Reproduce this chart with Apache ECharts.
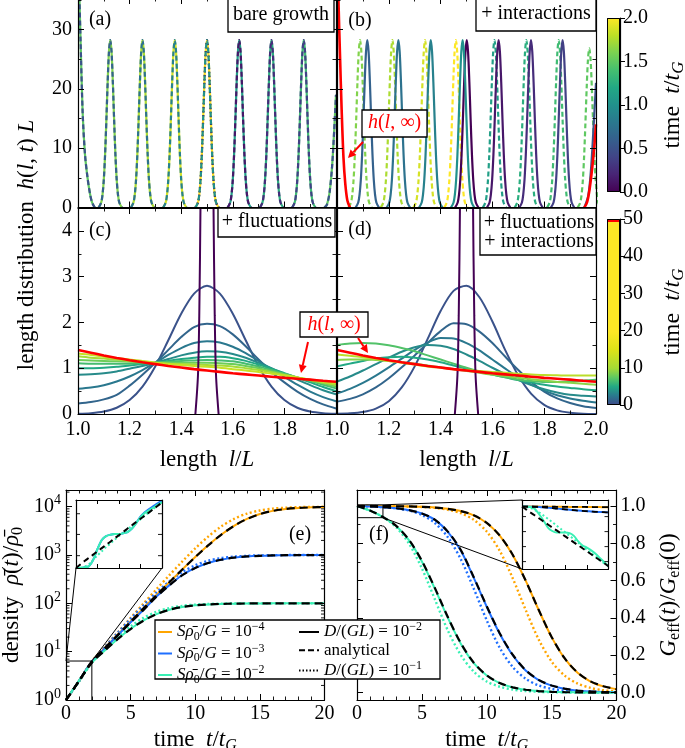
<!DOCTYPE html>
<html><head><meta charset="utf-8">
<script src="https://cdn.jsdelivr.net/npm/echarts@6/dist/echarts.min.js"></script>
<style>html,body{margin:0;padding:0;background:#fff}#c{width:685px;height:748px}</style>
</head><body><div id="c"></div>
<script>
// ---------------- DATA ----------------
const lenGrid = [1.00,1.05,1.10,1.15,1.20,1.25,1.30,1.35,1.40,1.45,1.50,1.55,1.60,1.65,1.70,1.75,1.80,1.85,1.90,1.95,2.00];
const peakOffsets = [-0.045,-0.035,-0.03,-0.025,-0.02,-0.015,-0.01,-0.005,0,0.005,0.01,0.015,0.02,0.025,0.03,0.035,0.045];
const peakShape   = [0,0.03,0.076,0.166,0.317,0.524,0.75,0.93,1,0.93,0.75,0.524,0.317,0.166,0.076,0.03,0];
const peakHeight = 28.2;
const aSolidTimes   = [1.125,1.25,1.375,1.5,1.625,1.75,1.875,2.0];
const aSolidCenters = [1.625,1.75,1.875,null,1.125,1.25,1.375,1.5];
const aDashTimes    = [0,0.125,0.25,0.375,0.5,0.625,0.75,0.875,1.0];
const aDashCenters  = [1.5,1.625,1.75,1.875,null,1.125,1.25,1.375,1.5];
const aEdgeLeft  = [[1.0,45],[1.004,38],[1.01,28],[1.018,16],[1.027,9],[1.037,5],[1.047,2.2],[1.055,0.8],[1.065,0]];
const aEdgeRight = [[1.955,0],[1.965,0.5],[1.975,2.5],[1.985,7],[1.993,13],[2.0,19]];
const bSolidTimes   = [0,0.125,0.25,0.375,0.5,0.625,0.75,0.875,1.0];
const bSolidCenters = [1.501,1.624,1.749,1.871,null,1.117,1.237,1.362,1.485];
const bDashTimes    = [1.125,1.25,1.375,1.5,1.625,1.75,1.875,2.0];
const bDashCenters  = [1.608,1.731,1.856,1.974,1.089,1.214,1.340,1.459];
const bDashHeights  = [28.2,28.2,28.2,26.8,28.2,28.2,28.2,28.2];
const bEdgeRight = [[1.955,0],[1.97,2],[1.98,6],[1.99,13],[2.0,21]];
const bInfLeft  = [[1.0,48],[1.005,36],[1.012,25],[1.018,16.4],[1.025,8.4],[1.032,4],[1.04,1.2],[1.05,0]];
const bInfRight = [[1.955,0],[1.965,0.8],[1.975,3],[1.985,6.5],[1.993,10],[2.0,14]];
const cTimes = [0.5,1.5,2.5,3.5,5,6.5,8,10,13];
const cCurves = [
 [0.006,0.019,0.054,0.137,0.305,0.60,1.045,1.61,2.19,2.63,2.80,2.63,2.19,1.61,1.045,0.60,0.305,0.137,0.054,0.019,0.006],
 [0.23,0.26,0.32,0.42,0.62,0.86,1.12,1.40,1.68,1.90,1.97,1.92,1.74,1.48,1.19,0.92,0.69,0.49,0.33,0.21,0.12],
 [0.55,0.58,0.63,0.71,0.82,0.96,1.12,1.29,1.44,1.55,1.59,1.56,1.47,1.33,1.16,0.98,0.81,0.64,0.49,0.37,0.28],
 [0.86,0.87,0.89,0.93,0.99,1.05,1.12,1.20,1.28,1.34,1.37,1.36,1.31,1.23,1.12,1.00,0.87,0.75,0.63,0.52,0.43],
 [1.00,1.00,1.01,1.03,1.06,1.09,1.12,1.16,1.20,1.23,1.25,1.25,1.22,1.16,1.08,0.99,0.89,0.79,0.69,0.59,0.50],
 [1.11,1.10,1.10,1.10,1.10,1.11,1.12,1.14,1.16,1.17,1.18,1.17,1.15,1.10,1.04,0.96,0.88,0.80,0.72,0.64,0.56],
 [1.18,1.17,1.16,1.15,1.14,1.13,1.12,1.12,1.12,1.12,1.12,1.11,1.09,1.05,1.00,0.93,0.87,0.80,0.73,0.67,0.60],
 [1.26,1.23,1.21,1.19,1.16,1.14,1.12,1.10,1.09,1.08,1.07,1.06,1.04,1.00,0.96,0.91,0.85,0.80,0.74,0.69,0.64],
 [1.32,1.29,1.25,1.22,1.19,1.16,1.12,1.09,1.07,1.05,1.03,1.01,0.98,0.95,0.92,0.88,0.84,0.80,0.75,0.71,0.67]
];
const hInf = [1.40,1.34,1.28,1.225,1.175,1.13,1.09,1.05,1.015,0.98,0.95,0.92,0.89,0.865,0.84,0.815,0.79,0.77,0.75,0.725,0.705];
const initialCenter = 1.5;
const dTimes = [0.5,1.5,2.5,3.5,5,7,9,12];
const dCurves = [
 [0.004,0.014,0.043,0.118,0.28,0.58,1.04,1.64,2.25,2.69,2.80,2.55,2.02,1.39,0.84,0.44,0.20,0.08,0.028,0.008,0.002],
 [0.27,0.33,0.43,0.58,0.78,1.02,1.28,1.55,1.81,1.98,1.96,1.80,1.55,1.25,0.96,0.70,0.49,0.34,0.24,0.17,0.13],
 [0.45,0.55,0.68,0.84,1.02,1.21,1.40,1.56,1.66,1.65,1.55,1.39,1.19,0.99,0.80,0.64,0.51,0.41,0.34,0.29,0.25],
 [0.71,0.82,0.95,1.09,1.23,1.36,1.46,1.51,1.49,1.42,1.30,1.16,1.01,0.87,0.74,0.63,0.54,0.47,0.42,0.40,0.38],
 [1.04,1.10,1.16,1.21,1.24,1.25,1.23,1.19,1.13,1.06,0.99,0.92,0.86,0.80,0.74,0.69,0.64,0.60,0.57,0.54,0.52],
 [1.51,1.54,1.55,1.54,1.50,1.44,1.37,1.28,1.19,1.10,1.01,0.93,0.86,0.80,0.75,0.72,0.70,0.70,0.71,0.73,0.75],
 [1.18,1.19,1.19,1.18,1.16,1.13,1.10,1.06,1.02,0.98,0.94,0.90,0.86,0.83,0.79,0.76,0.73,0.70,0.68,0.66,0.64],
 [1.30,1.27,1.24,1.20,1.16,1.12,1.08,1.04,1.01,0.98,0.96,0.94,0.92,0.90,0.88,0.865,0.85,0.845,0.84,0.84,0.84]
];
// panel (e): density vs time (t = 0..20)
const eT = [0,1,2,3,4,5,6,7,8,9,10,11,12,13,14,15,16,17,18,19,20];
const eOrangeD2 = [1,2.5,6.3,11.9,22.4,42.2,79.4,149,274,504,909,1586,2619,4006,5573,7034,8171,8938,9406,9667,9825];
const eBlueD2   = [1,2.5,6.26,11.7,21.9,40.5,73.6,138,238,385,540,685,800,882,933,963,980,990,995,997,998];
const eGreenD2  = [1,2.5,5.93,10.6,18.3,29.7,44.3,59.9,73.8,84.2,90.9,95.0,97.3,98.5,99.2,99.6,99.8,99.9,100,100,100];
const eOrangeD1 = [1,2.4,6.3,12.6,25.0,49.9,99,196,383,736,1368,2402,3869,5573,7152,8337,9091,9524,9755,9876,9937];
const eBlueD1   = [1,2.4,6.26,12.4,24.5,47.7,90.9,167,285,443,613,760,863,926,962,980,990,995,997.5,998.7,999.4];
const eGreenD1  = [1,2.4,5.93,11.2,20.1,33.4,50,66.7,79.9,88.8,94.1,96.9,98.4,99.2,99.6,99.8,99.9,99.9,100,100,100];
const eOrangeAn = [1,2.45,6.2,11.8,22.2,41.8,78.8,148,272,501,904,1580,2610,3995,5562,7025,8165,8934,9403,9665,9824];
const eBlueAn   = [1,2.45,6.2,11.6,21.7,40.2,73.1,137,236,382,537,682,797,880,932,962,979,989,994,997,998];
const eGreenAn  = [1,2.45,5.9,10.5,18.1,29.4,43.9,59.5,73.5,84.0,90.8,94.9,97.2,98.5,99.2,99.6,99.8,99.9,100,100,100];
const eLogMinorTicks = [2,3,4,5,6,7,8,9,20,30,40,50,60,70,80,90,200,300,400,500,600,700,800,900,2000,3000,4000,5000,6000,7000,8000,9000,20000];
// inset of (e): t = 0..2
const inT = [0,0.1,0.2,0.3,0.4,0.5,0.6,0.7,0.8,0.9,1.0,1.1,1.2,1.3,1.4,1.5,1.6,1.7,1.8,1.9,2.0];
const eInGreenD2 = [1,1,1.02,1.05,1.25,1.68,2.15,2.39,2.48,2.53,2.53,2.58,2.67,2.93,3.41,4.02,4.5,4.84,5.21,5.63,6.05];
const eInBlueD2  = [1,1,1.02,1.05,1.25,1.68,2.15,2.39,2.48,2.53,2.53,2.58,2.67,2.93,3.41,4.06,4.59,5.0,5.42,5.84,6.29];
const eInGreenD1 = [1,1.013,1.04,1.11,1.25,1.41,1.58,1.77,1.95,2.17,2.39,2.63,2.88,3.16,3.47,3.8,4.17,4.59,5.03,5.51,6.06];
const eInAn      = [1,1.10,1.21,1.32,1.44,1.58,1.72,1.88,2.05,2.25,2.45,2.68,2.94,3.21,3.51,3.83,4.18,4.57,5.0,5.46,5.98];
const eInTicks = [1.4,2.5,4.4];
// panel (f): effective growth rate vs time
const fOrangeD2 = [1,1,0.9994,0.9988,0.998,0.996,0.992,0.985,0.973,0.95,0.909,0.841,0.738,0.6,0.443,0.297,0.183,0.106,0.059,0.033,0.0175];
const fBlueD2   = [1,0.998,0.994,0.988,0.978,0.96,0.926,0.862,0.762,0.615,0.46,0.315,0.2,0.118,0.067,0.037,0.02,0.01,0.005,0.003,0.002];
const fGreenD2  = [1,0.975,0.941,0.894,0.817,0.703,0.557,0.401,0.262,0.158,0.091,0.05,0.027,0.015,0.008,0.004,0.002,0.001,0,0,0];
const fOrangeD1 = [1,1,0.9994,0.9987,0.9975,0.995,0.99,0.98,0.962,0.926,0.863,0.76,0.613,0.443,0.285,0.166,0.091,0.048,0.025,0.012,0.006];
const fBlueD1   = [1,0.998,0.994,0.988,0.976,0.952,0.909,0.833,0.715,0.557,0.387,0.24,0.137,0.074,0.038,0.02,0.01,0.005,0.0025,0.0013,0.0006];
const fGreenD1  = [1,0.976,0.941,0.888,0.799,0.666,0.5,0.333,0.201,0.112,0.059,0.031,0.016,0.008,0.004,0.002,0.001,0,0,0,0];
const fOrangeAn = [1,1,0.9994,0.9988,0.998,0.996,0.992,0.985,0.973,0.95,0.91,0.842,0.739,0.6,0.444,0.298,0.184,0.107,0.06,0.034,0.018];
const fBlueAn   = [1,0.998,0.994,0.988,0.978,0.96,0.927,0.863,0.764,0.618,0.463,0.318,0.203,0.12,0.068,0.038,0.021,0.011,0.006,0.003,0.002];
const fGreenAn  = [1,0.976,0.941,0.895,0.819,0.706,0.561,0.405,0.265,0.16,0.092,0.051,0.028,0.015,0.008,0.004,0.002,0.001,0,0,0];
// inset of (f)
const fInGreenD2 = [1.0,0.9999,0.9997,0.9976,0.9921,0.9859,0.979,0.9756,0.9742,0.9742,0.9742,0.9735,0.9707,0.9652,0.9611,0.959,0.9562,0.9528,0.9486,0.9445,0.9404];
const fInGreenD1 = [1.0,0.9995,0.9985,0.9965,0.994,0.991,0.9878,0.9845,0.981,0.9776,0.9742,0.9708,0.9673,0.9638,0.9603,0.9568,0.9533,0.9498,0.9463,0.9433,0.9404];
const fInAn      = [1.0,0.997,0.994,0.9911,0.9881,0.9851,0.9821,0.9791,0.9762,0.9732,0.9702,0.9672,0.9642,0.9613,0.9583,0.9553,0.9523,0.9493,0.9464,0.9434,0.9404];
const fInBlueD2  = [1,1,0.9999,0.9998,0.9996,0.9993,0.9989,0.9985,0.998,0.9976,0.9972,0.9968,0.9964,0.996,0.9957,0.9954,0.9951,0.9948,0.9946,0.9944,0.9942];
const fInOrangeD2= [1,1,1,1,1,0.9999,0.9999,0.9999,0.9998,0.9998,0.9998,0.9997,0.9997,0.9997,0.9997,0.9996,0.9996,0.9995,0.9995,0.9994,0.9994];
const fInTicks = [0.99,0.975,0.96,0.945];
// axis ranges
const lenRange = [1, 2];
const hRangeTop = [0, 35.3];
const hRangeBottom = [0, 4.5];
const cb1Range = [0, 2];
const cb2Range = [0, 50];
const tRange = [0, 20];
const rhoRange = [1, 22100];
const gRange = [-0.04, 1.086];
const eInRange = [1, 6.4];
const fInRange = [0.9376, 1.0066];
const inTRange = [0, 2];

// ---------------- STYLE ----------------
const FONT = "'Liberation Serif','Times New Roman',serif";
const viridisStops = ['#440154','#482475','#414487','#355f8d','#2a788e','#21918c','#22a884','#44bf70','#7ad151','#bddf26','#fde725'];
const fluctStops = [[0,'#3e4989'],[0.05,'#2a788e'],[0.1,'#22a884'],[0.15,'#5ec962'],[0.2,'#a5db36'],[0.3,'#dde318'],[0.4,'#fde725'],[1,'#fde725']];
const ORANGE = '#ffa500', BLUE = '#1f6fff', GREEN = '#38f0b4', RED = '#ff0000';

function hex2rgb(h){return [parseInt(h.substr(1,2),16),parseInt(h.substr(3,2),16),parseInt(h.substr(5,2),16)];}
function mix(a,b,f){const A=hex2rgb(a),B=hex2rgb(b);return 'rgb('+A.map((v,i)=>Math.round(v+(B[i]-v)*f)).join(',')+')';}
function viridis(f){f=Math.max(0,Math.min(1,f));const s=f*10,i=Math.min(9,Math.floor(s));return mix(viridisStops[i],viridisStops[i+1],s-i);}
function fluctColor(t){const f=t/50;for(let i=0;i<fluctStops.length-1;i++){const [o1,c1]=fluctStops[i],[o2,c2]=fluctStops[i+1];if(f<=o2)return mix(c1,c2,(f-o1)/(o2-o1));}return fluctStops[fluctStops.length-1][1];}

const zip = (xs, ys) => xs.map((x,i)=>[x, ys[i]]);
const peak = (c, h) => peakOffsets.map((o,i)=>[c+o, h*peakShape[i]]);

function richFor(size, color){
  const s = Math.round(size*0.7);
  return {
    i: {fontStyle:'italic', fontFamily:FONT, fontSize:size, color},
    sub: {fontFamily:FONT, fontSize:s, padding:[Math.round(size*0.5),0,0,0], color},
    isub: {fontStyle:'italic', fontFamily:FONT, fontSize:s, padding:[Math.round(size*0.5),0,0,0], color},
    sup: {fontFamily:FONT, fontSize:s, padding:[0,0,Math.round(size*0.6),0], color}
  };
}

// ---------------- GRIDS & AXES ----------------
const grids = [
  {left:78, top:-2, width:258, height:209.5},
  {left:337, top:-2, width:259, height:209.5},
  {left:78, top:208, width:258, height:206},
  {left:337, top:208, width:259, height:206},
  {left:607, top:18, width:13, height:174},
  {left:607, top:219, width:13, height:186},
  {left:66, top:490, width:258.5, height:210},
  {left:357, top:490, width:259.5, height:210},
  {left:76, top:500, width:86, height:68},
  {left:522, top:500, width:86.5, height:69}
].map(g=>Object.assign({show:false, containLabel:false, outerBoundsMode:'none'}, g));

const xAxis = [], yAxis = [];
function mkAxis(gridIndex, position, o){
  const ax = {
    gridIndex, position, type: o.type || 'value', min:o.min, max:o.max,
    axisLine:{show:true, onZero:false, lineStyle:{color:'#000', width:1.2}},
    axisTick:{show:o.tick!==false, inside:!o.tickOut, length:o.tickLen||6, lineStyle:{color:'#000', width:1}},
    minorTick:{show:!!o.minor, splitNumber:o.minor||2, length:3.5, lineStyle:{color:'#000', width:0.9}},
    splitLine:{show:false}, minorSplitLine:{show:false},
    axisLabel:{show:!!o.labels, color:'#000', fontFamily:FONT, fontSize:20, margin:(o.margin!=null?o.margin:6),
      showMinLabel:o.showMin, showMaxLabel:o.showMax, rich:richFor(20,'#000')},
    name:o.name||'', nameLocation:'middle', nameGap:o.nameGap||30, nameRotate:o.nameRotate,
    nameTextStyle:{color:'#000', fontFamily:FONT, fontSize:o.nameSize||23, rich:richFor(o.nameSize||23,'#000')},
    z:o.z||5, silent:true
  };
  if (o.formatter) ax.axisLabel.formatter = o.formatter;
  if (o.interval!=null) ax.interval = o.interval;
  if (o.splitNumber) ax.splitNumber = o.splitNumber;
  return ax;
}
function panel(gi, xo, yo, rightLabels){
  const xi = xAxis.length;
  xAxis.push(mkAxis(gi,'bottom',xo));
  xAxis.push(mkAxis(gi,'top',Object.assign({},xo,{labels:false,name:''})));
  const yi = yAxis.length;
  if (rightLabels){
    yAxis.push(mkAxis(gi,'right',yo));
    yAxis.push(mkAxis(gi,'left',Object.assign({},yo,{labels:false,name:''})));
  } else {
    yAxis.push(mkAxis(gi,'left',yo));
    yAxis.push(mkAxis(gi,'right',Object.assign({},yo,{labels:false,name:''})));
  }
  return {x:xi, y:yi};
}
const fmt1 = v => v.toFixed(1);
const lenX = (labels, showMax) => ({min:lenRange[0], max:lenRange[1], interval:0.2, minor:2, labels, formatter:fmt1, showMax,
   name: labels ? 'length  {i|l}/{i|L}' : '', nameGap:34});
const PA = panel(0, lenX(false), {min:hRangeTop[0], max:hRangeTop[1], interval:10, minor:2, labels:true, showMax:false});
const PB = panel(1, lenX(false), {min:hRangeTop[0], max:hRangeTop[1], interval:10, minor:2, labels:false});
const PC = panel(2, lenX(true,false), {min:hRangeBottom[0], max:hRangeBottom[1], interval:1, minor:2, labels:true, showMax:false});
const PD = panel(3, lenX(true,true), {min:hRangeBottom[0], max:hRangeBottom[1], interval:1, minor:2, labels:false});
const timeName = 'time  {i|t}/{i|t}{isub|G}';
const PE = panel(6, {min:tRange[0], max:tRange[1], interval:5, minor:5, labels:true, name:timeName, nameGap:26, margin:4},
  {type:'log', min:rhoRange[0], max:rhoRange[1], labels:true, showMax:false, margin:5,
   formatter: v => '10{sup|' + Math.round(Math.log10(v)) + '}',
   name:'density  {i|ρ̄}({i|t})/{i|ρ̄}{sub|0}', nameGap:40});
const PF = panel(7, {min:tRange[0], max:tRange[1], interval:5, minor:5, labels:true, name:timeName, nameGap:26, margin:4},
  {min:gRange[0], max:gRange[1], splitNumber:5, minor:2, labels:true, showMin:false, showMax:false, formatter:fmt1, margin:4,
   name:'{i|G}{sub|eff}({i|t})/{i|G}{sub|eff}(0)', nameGap:38}, true);
const PEI = panel(8, {min:inTRange[0], max:inTRange[1], interval:0.5, labels:false, tickLen:4, z:26},
  {type:'log', min:eInRange[0], max:eInRange[1], labels:false, tick:false, z:26});
const PFI = panel(9, {min:inTRange[0], max:inTRange[1], interval:0.5, labels:false, tickLen:4, z:26},
  {min:fInRange[0], max:fInRange[1], labels:false, tick:false, z:26});
const cbX1 = xAxis.length; xAxis.push({gridIndex:4, type:'category', data:['cb'], show:false});
const cbY1 = yAxis.length; yAxis.push(mkAxis(4,'right',{min:cb1Range[0], max:cb1Range[1], interval:0.5, labels:true, formatter:fmt1, tickOut:true, tickLen:5, margin:3,
  name:'time  {i|t}/{i|t}{isub|G}', nameGap:38, nameSize:24}));
const cbX2 = xAxis.length; xAxis.push({gridIndex:5, type:'category', data:['cb'], show:false});
const cbY2 = yAxis.length; yAxis.push(mkAxis(5,'right',{min:cb2Range[0], max:cb2Range[1], interval:10, labels:true, tickOut:true, tickLen:5, margin:3,
  name:'time  {i|t}/{i|t}{isub|G}', nameGap:38, nameSize:24}));

// ---------------- SERIES ----------------
const series = [];
function addLine(P, data, color, o={}){
  series.push({type:'line', xAxisIndex:P.x, yAxisIndex:P.y, data, symbol:'none', showSymbol:false,
    smooth:(o.smooth!=null?o.smooth:0.3), silent:true, animation:false, name:o.name,
    lineStyle:{color, width:o.width||2, type:o.type||'solid', cap:'butt'}, itemStyle:{color}, z:o.z||2, clip:true});
}
function sideTicks(P, values, len, z){
  series.push({type:'custom', xAxisIndex:P.x, yAxisIndex:P.y, silent:true, clip:false, z,
    data: values.map(v=>[0,v]),
    renderItem:(params, api)=>{ const p = api.coord([0, api.value(1)]); const cs = params.coordSys;
      return {type:'group', children:[
        {type:'line', shape:{x1:cs.x, y1:p[1], x2:cs.x+len, y2:p[1]}, style:{stroke:'#000', lineWidth:0.9}},
        {type:'line', shape:{x1:cs.x+cs.width, y1:p[1], x2:cs.x+cs.width-len, y2:p[1]}, style:{stroke:'#000', lineWidth:0.9}}]}; }});
}
aSolidTimes.forEach((t,i)=>{
  const c = viridis(t/2);
  if (aSolidCenters[i]==null){ addLine(PA, aEdgeLeft, c, {width:2.2}); addLine(PA, aEdgeRight, c, {width:2.2}); }
  else addLine(PA, peak(aSolidCenters[i], peakHeight), c, {width:2.2});
});
aDashTimes.forEach((t,i)=>{
  const c = viridis(t/2);
  const type = t===0 ? [1.5,2.5] : [5,3];
  if (aDashCenters[i]==null){ addLine(PA, aEdgeLeft, c, {width:2.2,type,z:3}); addLine(PA, aEdgeRight, c, {width:2.2,type,z:3}); }
  else addLine(PA, peak(aDashCenters[i], peakHeight), c, {width:2.2,type,z:3});
});
bDashTimes.forEach((t,i)=>addLine(PB, peak(bDashCenters[i], bDashHeights[i]), viridis(t/2), {width:2.2, type:[5,3]}));
bSolidTimes.forEach((t,i)=>{
  const c = viridis(t/2);
  if (bSolidCenters[i]==null) addLine(PB, bEdgeRight, c, {width:2.2, z:3});
  else addLine(PB, peak(bSolidCenters[i], peakHeight), c, {width:2.2, z:3});
});
addLine(PB, bInfLeft, RED, {width:2.6, z:4});
addLine(PB, bInfRight, RED, {width:2.6, z:4});
cCurves.forEach((arr,i)=>addLine(PC, zip(lenGrid, arr), fluctColor(cTimes[i]), {width:2}));
addLine(PC, zip(lenGrid, hInf), RED, {width:2.6, z:4});
addLine(PC, peak(initialCenter, peakHeight), viridisStops[0], {width:2, z:3});
dCurves.forEach((arr,i)=>addLine(PD, zip(lenGrid, arr), fluctColor(dTimes[i]), {width:2}));
addLine(PD, zip(lenGrid, hInf), RED, {width:2.6, z:4});
addLine(PD, peak(initialCenter, peakHeight), viridisStops[0], {width:2, z:3});
const DOT = [2,2.5], DASH = [8,5];
addLine(PE, zip(eT,eOrangeD1), ORANGE, {type:DOT, width:2.4});
addLine(PE, zip(eT,eBlueD1), BLUE, {type:DOT, width:2.4});
addLine(PE, zip(eT,eGreenD1), GREEN, {type:DOT, width:2.4});
addLine(PE, zip(eT,eOrangeD2), ORANGE, {name:'o4', z:3});
addLine(PE, zip(eT,eBlueD2), BLUE, {name:'b3', z:3});
addLine(PE, zip(eT,eGreenD2), GREEN, {name:'g2', z:3});
addLine(PE, zip(eT,eOrangeAn), '#000', {type:DASH, width:2.2, z:4});
addLine(PE, zip(eT,eBlueAn), '#000', {type:DASH, width:2.2, z:4});
addLine(PE, zip(eT,eGreenAn), '#000', {type:DASH, width:2.2, z:4});
addLine(PE, [], '#000', {name:'k2', width:2});
addLine(PE, [], '#000', {name:'kan', width:2, type:[6,3]});
addLine(PE, [], '#000', {name:'k1', width:2, type:[1.5,2]});
sideTicks(PE, eLogMinorTicks, 3.5, 6);
addLine(PEI, zip(inT,eInGreenD1), GREEN, {type:DOT, width:2, z:22});
addLine(PEI, zip(inT,eInBlueD2), BLUE, {width:2, z:22});
addLine(PEI, zip(inT,eInGreenD2), GREEN, {width:2, z:23});
addLine(PEI, zip(inT,eInAn), '#000', {type:[6,4], width:2, z:24});
sideTicks(PEI, eInTicks, 4, 26);
addLine(PF, zip(eT,fOrangeD1), ORANGE, {type:DOT, width:2.4});
addLine(PF, zip(eT,fBlueD1), BLUE, {type:DOT, width:2.4});
addLine(PF, zip(eT,fGreenD1), GREEN, {type:DOT, width:2.4});
addLine(PF, zip(eT,fOrangeD2), ORANGE, {z:3});
addLine(PF, zip(eT,fBlueD2), BLUE, {z:3});
addLine(PF, zip(eT,fGreenD2), GREEN, {z:3});
addLine(PF, zip(eT,fOrangeAn), '#000', {type:DASH, width:2.2, z:4});
addLine(PF, zip(eT,fBlueAn), '#000', {type:DASH, width:2.2, z:4});
addLine(PF, zip(eT,fGreenAn), '#000', {type:DASH, width:2.2, z:4});
addLine(PFI, zip(inT,fInGreenD1), GREEN, {type:DOT, width:2, z:22});
addLine(PFI, zip(inT,fInOrangeD2), ORANGE, {width:2, z:22});
addLine(PFI, zip(inT,fInBlueD2), BLUE, {width:2, z:22});
addLine(PFI, zip(inT,fInGreenD2), GREEN, {width:2, z:23});
addLine(PFI, zip(inT,fInAn), '#000', {type:[6,4], width:2, z:24});
addLine(PFI, zip(inT,fInOrangeD2), '#000', {type:[6,4], width:1.8, z:24});
addLine(PFI, zip(inT,fInBlueD2), '#000', {type:[6,4], width:1.8, z:24});
sideTicks(PFI, fInTicks, 4, 26);
const cb1Grad = new echarts.graphic.LinearGradient(0,1,0,0, viridisStops.map((c,i)=>({offset:i/10, color:c})));
const cb2Grad = new echarts.graphic.LinearGradient(0,1,0,0,
  fluctStops.map(([o,c])=>({offset:o*0.985, color:c})).concat([{offset:0.985,color:RED},{offset:1,color:RED}]));
series.push({type:'bar', xAxisIndex:cbX1, yAxisIndex:cbY1, data:[cb1Range[1]], barWidth:'100%', silent:true,
  itemStyle:{color:cb1Grad, borderColor:'#000', borderWidth:1}});
series.push({type:'bar', xAxisIndex:cbX2, yAxisIndex:cbY2, data:[cb2Range[1]], barWidth:'100%', silent:true,
  itemStyle:{color:cb2Grad, borderColor:'#000', borderWidth:1}});

// ---------------- LEGENDS ----------------
const legendText = {
  o4:'{i|S}{i|ρ̄}{sub|0}/{i|G} = 10{sup|−4}', b3:'{i|S}{i|ρ̄}{sub|0}/{i|G} = 10{sup|−3}', g2:'{i|S}{i|ρ̄}{sub|0}/{i|G} = 10{sup|−2}',
  k2:'{i|D}/({i|GL}) = 10{sup|−2}', kan:'analytical', k1:'{i|D}/({i|GL}) = 10{sup|−1}'
};
const legendBase = {orient:'vertical', selectedMode:false, itemWidth:14, itemHeight:10, itemGap:0, z:20, padding:0,
  itemStyle:{opacity:0, borderWidth:0},
  textStyle:{fontFamily:FONT, fontSize:17, color:'#000', lineHeight:18.3, rich:richFor(17,'#000')},
  formatter: n => legendText[n]};
const legend = [
  Object.assign({}, legendBase, {left:157, top:621, data:['o4','b3','g2']}),
  Object.assign({}, legendBase, {left:298, top:621, itemWidth:20, data:['k2','kan','k1']})
];

const chart = echarts.init(document.getElementById('c'), null, {renderer:'canvas', width:685, height:748});
chart.setOption({animation:false, backgroundColor:'#fff', grid:grids, xAxis, yAxis, series, legend});

// ---------------- ANNOTATIONS ----------------
const g = [];
function label(text, x, y, size, extra){ g.push(Object.assign({type:'text', x, y, z:30,
  style:Object.assign({text, fill:'#000', fontFamily:FONT, fontSize:size||20, align:'center', verticalAlign:'middle',
    textAlign:'center', textVerticalAlign:'middle', rich:richFor(size||20, (extra&&extra.fill)||'#000')}, extra||{})})); }
function box(x,y,w,h){ g.push({type:'rect', z:25, shape:{x,y,width:w,height:h}, style:{fill:'#fff', stroke:'#000', lineWidth:1.3}}); }
function arrow(x1,y1,x2,y2,color){
  const a=Math.atan2(y2-y1,x2-x1), L=8, W=4, bx=x2-L*Math.cos(a), by=y2-L*Math.sin(a), px=-Math.sin(a)*W, py=Math.cos(a)*W;
  g.push({type:'line', z:30, shape:{x1,y1,x2:bx,y2:by}, style:{stroke:color, lineWidth:2}});
  g.push({type:'polygon', z:30, shape:{points:[[x2,y2],[bx+px,by+py],[bx-px,by-py]]}, style:{fill:color}});
}
label('(a)', 100, 20); label('(b)', 360, 21); label('(c)', 100, 231); label('(d)', 360, 230);
label('(e)', 300, 535); label('(f)', 379, 535);
box(228,-2,106,34); label('bare growth', 281, 15);
box(476,-2,120,33); label('+ interactions', 536, 14);
box(218,208,117,29); label('+ fluctuations', 277, 222);
box(480,208,116,47); label('+ fluctuations', 539, 223); label('+ interactions', 539, 242);
box(362,110,65,27); label('{i|h}({i|l}, ∞)', 394.5, 123, 20, {fill:RED});
arrow(363,142,348,158,RED);
box(300,312,68,25); label('{i|h}({i|l}, ∞)', 334, 324.5, 20, {fill:RED});
arrow(308,342,301,373,RED);
arrow(358,338,368,353,RED);
g.push({type:'text', x:27, y:245, rotation:Math.PI/2, z:30,
  style:{text:'length distribution  {i|h}({i|l}, {i|t}) {i|L}', fill:'#000', fontFamily:FONT, fontSize:23,
    align:'center', verticalAlign:'middle', textAlign:'center', textVerticalAlign:'middle', rich:richFor(23,'#000')}});
g.push({type:'rect', z:15, shape:{x:155, y:620, width:285, height:59}, style:{fill:'#fff', stroke:'#000', lineWidth:1.3}});
const px = (P, v) => chart.convertToPixel({xAxisIndex:P.x, yAxisIndex:P.y}, v);
function segs(points){ points.forEach(([a,b])=>g.push({type:'line', z:12, shape:{x1:a[0],y1:a[1],x2:b[0],y2:b[1]}, style:{stroke:'#000', lineWidth:1}})); }
{
  const r0 = px(PE,[inTRange[0], eInRange[0]]), r1 = px(PE,[inTRange[1], eInRange[1]]);
  const i0 = px(PEI,[inTRange[0], eInRange[0]]), i1 = px(PEI,[inTRange[1], eInRange[0]]), itop = px(PEI,[inTRange[0], eInRange[1]]);
  segs([[[r0[0],r1[1]],[r1[0],r1[1]]],[[r1[0],r1[1]],[r1[0],r0[1]]],[[r0[0],r1[1]],i0],[[r1[0],r1[1]],i1]]);
  g.push({type:'rect', z:13, shape:{x:i0[0], y:itop[1], width:i1[0]-i0[0], height:i0[1]-itop[1]}, style:{fill:'#fff'}});
}
{
  const r0 = px(PF,[inTRange[0], fInRange[0]]), r1 = px(PF,[inTRange[1], fInRange[1]]);
  const itl = px(PFI,[inTRange[0], fInRange[1]]), ibl = px(PFI,[inTRange[0], fInRange[0]]), ibr = px(PFI,[inTRange[1], fInRange[0]]);
  segs([[[r0[0],r1[1]],[r1[0],r1[1]]],[[r0[0],r0[1]],[r1[0],r0[1]]],[[r1[0],r1[1]],[r1[0],r0[1]]],[[r1[0],r1[1]],itl],[[r1[0],r0[1]],ibl]]);
  g.push({type:'rect', z:13, shape:{x:itl[0], y:itl[1], width:ibr[0]-itl[0], height:ibr[1]-itl[1]}, style:{fill:'#fff'}});
}
chart.setOption({graphic:g});
</script></body></html>
